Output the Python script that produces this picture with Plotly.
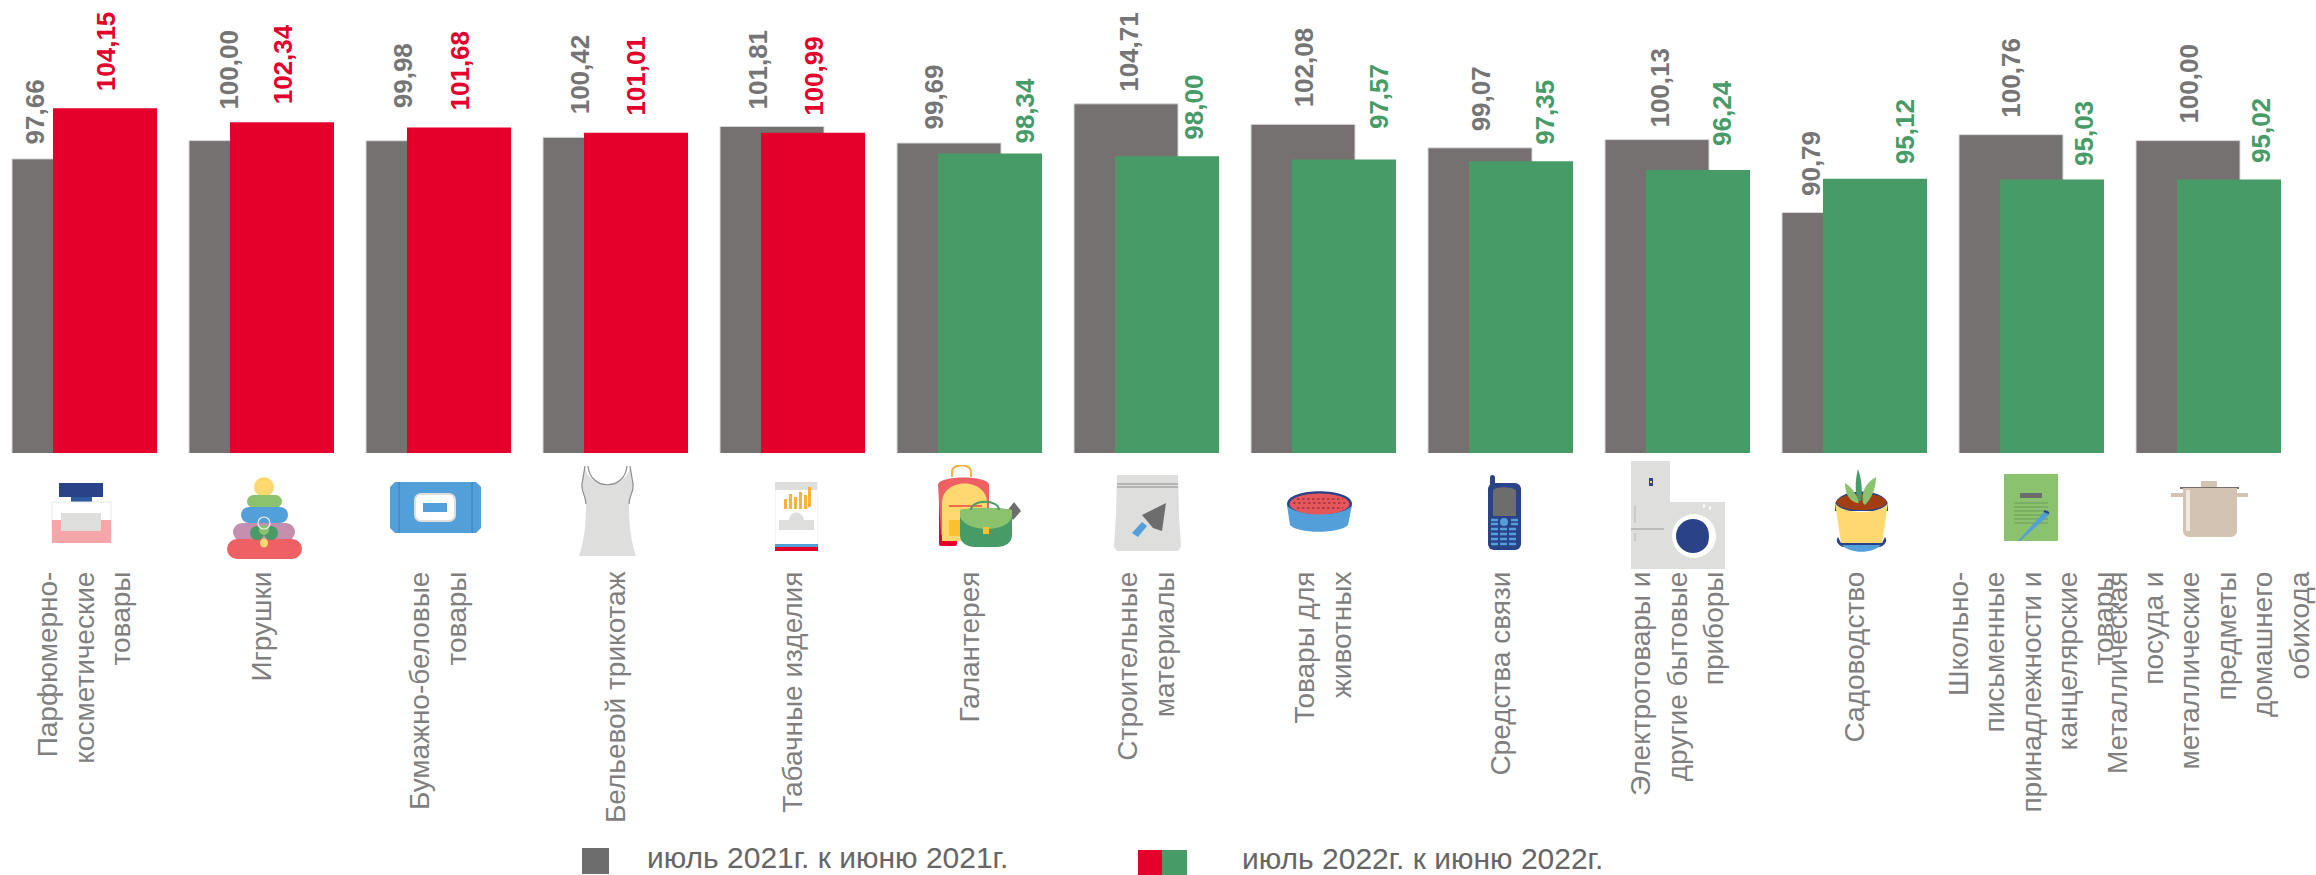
import base64
import plotly.graph_objects as go

categories = [
    "Парфюмерно-<br>косметические<br>товары", "Игрушки", "Бумажно-беловые<br>товары",
    "Бельевой трикотаж", "Табачные изделия", "Галантерея", "Строительные<br>материалы",
    "Товары для<br>животных", "Средства связи", "Электротовары и<br>другие бытовые<br>приборы",
    "Садоводство", "Школьно-<br>письменные<br>принадлежности и<br>канцелярские<br>товары",
    "Металлическая<br>посуда и<br>металлические<br>предметы<br>домашнего<br>обихода",
]
values_2021 = [97.66, 100.00, 99.98, 100.42, 101.81, 99.69, 104.71, 102.08, 99.07, 100.13, 90.79, 100.76, 100.00]
values_2022 = [104.15, 102.34, 101.68, 101.01, 100.99, 98.34, 98.00, 97.57, 97.35, 96.24, 95.12, 95.03, 95.02]
legend_2021 = "июль 2021г. к июню 2021г."
legend_2022 = "июль 2022г. к июню 2022г."

GRAY, RED, GREEN = "#767171", "#E4002B", "#469B67"
colors_2022 = [RED if v > 100 else GREEN for v in values_2022]

# hand-placed value labels: offsets in pixels from the group centre / bar top
dx_2021 = [-49.5, -32.5, -35.5, -35.5, -34.5, -35.5, -17.5, -19.5, -19.5, -17.5, -43.5, -20.5, -19.5]
gap_2021 = [14, 31, 32, 23, 17, 13, 12, 17, 16, 12, 16, 17, 17]
dx_2022 = [21.5, 21.5, 21.5, 20.5, 21.5, 55.5, 47.5, 55.5, 44.5, 44.5, 50.5, 52.5, 52.5]
gap_2022 = [17, 18, 17, 17, 17, 10, 16, 30, 16, 24, 14, 13, 16]

W, H, PLOT_H, PITCH, C0 = 2316, 875, 453, 177.0, 84.5
BAR_W = 104 / PITCH
FONT = "Liberation Sans"

fig = go.Figure()
fig.add_bar(x=categories, y=values_2021, base=0, width=BAR_W, offset=-72.5 / PITCH,
            marker=dict(color=GRAY, line=dict(color="#d9d9d9", width=1)), name=legend_2021)
fig.add_bar(x=categories, y=values_2022, base=0, width=BAR_W, offset=-31.5 / PITCH,
            marker=dict(color=colors_2022, line=dict(width=0)), name=legend_2022)

annotations = []
def fmt(v):
    return f"{v:.2f}".replace(".", ",")
for cat, v, dx, gap in zip(categories, values_2021, dx_2021, gap_2021):
    annotations.append(dict(x=cat, y=v, xref="x", yref="y", text=f"<b>{fmt(v)}</b>", textangle=-90,
                            showarrow=False, xanchor="center", yanchor="bottom", xshift=dx, yshift=gap - 2,
                            font=dict(family=FONT, size=26, color="#757575")))
for cat, v, dx, gap, col in zip(categories, values_2022, dx_2022, gap_2022, colors_2022):
    annotations.append(dict(x=cat, y=v, xref="x", yref="y", text=f"<b>{fmt(v)}</b>", textangle=-90,
                            showarrow=False, xanchor="center", yanchor="bottom", xshift=dx, yshift=gap - 2,
                            font=dict(family=FONT, size=26, color=col)))

def paper_x(px): return px / W
def paper_y(py): return 1 - py / PLOT_H

annotations.append(dict(x=paper_x(645), y=paper_y(857), xref="paper", yref="paper", text=legend_2021, showarrow=False,
                        xanchor="left", yanchor="middle", font=dict(family=FONT, size=30, color="#666666")))
annotations.append(dict(x=paper_x(1240), y=paper_y(858), xref="paper", yref="paper", text=legend_2022, showarrow=False,
                        xanchor="left", yanchor="middle", font=dict(family=FONT, size=30, color="#666666")))

def swatch(x0, x1, y0, y1, color):
    return dict(type="rect", xref="paper", yref="paper", x0=paper_x(x0), x1=paper_x(x1),
                y0=paper_y(y0), y1=paper_y(y1), fillcolor=color, line=dict(width=0))
shapes = [swatch(582, 609, 848, 874, "#6d6d6d"), swatch(1138, 1162, 850, 875, RED), swatch(1162, 1187, 850, 875, GREEN)]

# pictograms: (left, top, width, height, svg body)
NAVY, BLUE, LGREEN, DGREEN, YEL, CORAL, LG, DG = "#2A4288", "#529FD9", "#8BC26E", "#469B67", "#FFD96F", "#EE6063", "#DEDEDC", "#6D6D6D"
icons = [
    (51, 483, 61, 60, f'<rect x="8" width="44" height="14" fill="{NAVY}"/><rect x="20" y="14" width="21" height="6" fill="#2E5AA0"/>'
        f'<rect x="1" y="19" width="59" height="40" fill="#fff" stroke="#E8E8E8"/><rect x="1" y="37" width="59" height="23" fill="#F5A6A9"/>'
        f'<rect x="10" y="30" width="40" height="18" fill="{LG}"/>'),
    (227, 477, 75, 83, f'<circle cx="37" cy="10" r="10" fill="{YEL}"/><rect x="20" y="18" width="35" height="13" rx="6.5" fill="{LGREEN}"/>'
        f'<rect x="14" y="30" width="47" height="16" rx="8" fill="{BLUE}"/><rect x="6" y="46" width="62" height="18" rx="9" fill="#C58FB0"/>'
        f'<rect y="62" width="75" height="20" rx="10" fill="{CORAL}"/><ellipse cx="30" cy="56" rx="7" ry="7" fill="{DGREEN}"/>'
        f'<ellipse cx="44" cy="56" rx="7" ry="7" fill="{DGREEN}"/><circle cx="37" cy="53" r="5" fill="{LGREEN}"/>'
        f'<circle cx="37" cy="46" r="6" fill="none" stroke="#EEE" stroke-width="1.2"/><ellipse cx="37" cy="66" rx="4" ry="4.5" fill="{YEL}"/>'),
    (390, 482, 91, 51, f'<path d="M5 0H86L91 5V46L86 51H5L0 46V5Z" fill="{BLUE}"/><path d="M9 0V51M82 0V51" stroke="#3C7FB5" stroke-width="1"/>'
        f'<rect x="25" y="12" width="40" height="27" rx="6" fill="#fff" stroke="{LG}" stroke-width="2"/><rect x="33" y="21" width="24" height="9" fill="{BLUE}"/>'),
    (579, 466, 57, 90, f'<path d="M6 0C8 24 49 24 51 0L54 18C55 26 50 30 50 40C50 60 52 75 57 90H0C5 75 7 60 7 40C7 30 2 26 3 18Z" fill="{LG}"/>'
        f'<path d="M9 0C11 25 46 25 48 0M6 0L3 18C2 26 7 30 7 38M51 0L54 18C55 26 50 30 50 38" fill="none" stroke="#8C8C8C" stroke-width="1.2"/>'),
    (775, 482, 43, 69, f'<rect width="43" height="69" fill="#fff" stroke="#EAEAEA"/><rect width="42" height="8" fill="{LG}"/>'
        f'<path d="M9 17h3v10h-3zM14 12h3v15h-3zM19 15h3v12h-3zM24 10h3v17h-3zM29 13h3v14h-3zM33 5h3v20h-3z" fill="#FBB040"/>'
        f'<path d="M4 48H39V38H29C28 28 15 28 14 38H4Z" fill="{LG}"/><rect y="62" width="43" height="3" fill="{BLUE}"/><rect y="65" width="43" height="4" fill="#E4002B"/>'),
    (937, 465, 84, 82, f'<path d="M15 12V7C15 -2 34 -2 34 7V12" fill="none" stroke="#FBB040" stroke-width="2"/><rect x="2" y="17" width="18" height="64" rx="2" fill="#E4002B"/>'
        f'<path d="M1 20C1 10 52 10 52 20V70H4Z" fill="{CORAL}"/><path d="M5 76V38C5 12 50 12 50 38V76Z" fill="{YEL}"/>'
        f'<rect x="12" y="55" width="12" height="16" fill="#FBC02D"/><path d="M12 41H45" stroke="#E4002B" stroke-width="1.2"/>'
        f'<path d="M77 37L84 46L76 55L70 46Z" fill="{DG}"/><path d="M23 45H75V70C75 78 68 82 60 82H38C30 82 23 78 23 70Z" fill="{DGREEN}"/>'
        f'<path d="M23 45C30 42 68 42 75 45V52C70 68 30 68 23 52Z" fill="{LGREEN}"/><path d="M34 45C34 34 62 34 62 45" fill="none" stroke="{DGREEN}" stroke-width="2"/>'
        f'<rect x="46" y="62" width="6" height="7" fill="#FBC02D"/>'),
    (1114, 475, 67, 76, f'<path d="M3 0H64L65 40L67 72L64 76H3L0 72L2 40Z" fill="{LG}"/><path d="M3 9H64M3 12H64" stroke="#8C8C8C" stroke-width="1.2"/>'
        f'<path d="M52 28L48 56L39 53L34 47L28 40Z" fill="{DG}"/><path d="M33 51L24 62L18 58L28 47Z" fill="{BLUE}"/>'),
    (1285, 491, 69, 41, f'<path d="M2 13C2 -4 67 -4 67 13C67 30 2 30 2 13Z" fill="{NAVY}"/><path d="M2 14C10 26 60 26 67 14L63 34C55 43 12 43 5 34Z" fill="{BLUE}"/>'
        f'<ellipse cx="34.5" cy="13" rx="30" ry="10.5" fill="#E4575B"/>'
        f'<path d="M8 12H62M12 8H58M12 17H58" stroke="#B13A45" stroke-width="2" stroke-dasharray="2.5 2.5"/>'),
    (1488, 475, 33, 75, f'<rect x="2" width="5" height="12" rx="2.5" fill="{NAVY}"/><rect y="8" width="33" height="67" rx="6" fill="{NAVY}"/>'
        f'<path d="M5 16C5 11 27 11 28 16V41H5Z" fill="{DG}"/><ellipse cx="16" cy="47" rx="4" ry="4" fill="{BLUE}"/>'
        f'<path d="M3 45h7M3 49h7M23 45h7M23 49h7M3 54h27M3 59h27M3 64h27M3 69h27" stroke="{BLUE}" stroke-width="2.5" stroke-dasharray="7 2"/>'),
    (1631, 461, 94, 108, f'<rect width="39" height="108" fill="{LG}"/><rect x="33" y="41" width="61" height="67" fill="{LG}"/>'
        f'<path d="M0 68H33" stroke="#9A9A9A" stroke-width="1.2"/><path d="M4 45V62M4 72V80" stroke="#BDBDBD" stroke-width="1.2"/>'
        f'<rect x="18" y="17" width="4" height="8" fill="{NAVY}"/><rect x="19" y="20" width="2" height="2" fill="{YEL}"/>'
        f'<ellipse cx="63" cy="75" rx="22" ry="22" fill="#fff"/><ellipse cx="62" cy="75" rx="17" ry="17" fill="{NAVY}"/><path d="M72 60C80 68 80 82 72 92A22 22 0 0 0 85 75 22 22 0 0 0 72 60Z" fill="#fff"/>'
        f'<path d="M72 45h2M78 47h2" stroke="#fff" stroke-width="3"/>'),
    (1835, 469, 53, 84, f'<path d="M0 36C2 18 51 18 53 36V42H0Z" fill="{NAVY}"/><ellipse cx="26.5" cy="33" rx="25" ry="8" fill="#A33D12"/>'
        f'<path d="M0 34C8 46 45 46 53 34L47 74H6Z" fill="{YEL}"/><path d="M3 68C0 72 3 76 8 78H45C50 76 53 72 50 68L47 74H6Z" fill="{NAVY}"/>'
        f'<path d="M7 76C15 85 38 85 46 76Z" fill="{BLUE}"/><path d="M23 32C19 20 21 8 23 0C26 8 28 20 26 32Z" fill="{DGREEN}"/>'
        f'<path d="M22 34C14 32 10 24 10 14C17 18 22 26 24 34Z" fill="{LGREEN}"/><path d="M28 34C26 24 30 14 41 8C41 20 36 30 30 36Z" fill="{LGREEN}"/>'),
    (2004, 474, 54, 67, f'<rect width="54" height="67" fill="{LGREEN}"/><rect x="16" y="19" width="22" height="5" fill="{DG}"/>'
        f'<path d="M10 29H44M10 33H44M10 37H44M10 41H44M10 45H44M10 49H44" stroke="#6E9A58" stroke-width="1.2"/>'
        f'<path d="M41 37L46 40L16 67L12 69Z" fill="{BLUE}"/><path d="M40 37L45 39" stroke="{NAVY}" stroke-width="2"/>'),
    (2171, 481, 77, 56, f'<rect x="30" width="16" height="7" rx="1" fill="#D3C3B3"/><path d="M9 6H68V8H9Z" fill="#77706A"/><rect x="0" y="12" width="77" height="4" fill="#D3C3B3"/>'
        f'<path d="M12 7H66V50C66 53 63 56 60 56H18C15 56 12 53 12 50Z" fill="#D3C3B3"/><rect x="15" y="9" width="4" height="41" fill="#F1E9DF"/>'),
]
images = []
for left, top, w, h, body in icons:
    svg = f'<svg xmlns="http://www.w3.org/2000/svg" width="{w}" height="{h}" viewBox="0 0 {w} {h}">{body}</svg>'
    uri = "data:image/svg+xml;base64," + base64.b64encode(svg.encode()).decode()
    images.append(dict(source=uri, xref="paper", yref="paper", x=paper_x(left), y=paper_y(top),
                       sizex=w / W, sizey=h / PLOT_H, xanchor="left", yanchor="top", sizing="stretch", layer="above"))

fig.update_layout(
    width=W, height=H, autosize=False, barmode="overlay", showlegend=False,
    margin=dict(l=0, r=0, t=0, b=H - PLOT_H, pad=0),
    paper_bgcolor="white", plot_bgcolor="white",
    annotations=annotations, shapes=shapes, images=images,
    font=dict(family=FONT),
    xaxis=dict(type="category", categoryorder="array", categoryarray=categories,
               range=[-C0 / PITCH, (W - C0) / PITCH], tickangle=-90, showgrid=False,
               ticks="", ticklabelstandoff=112, showline=False,
               tickfont=dict(family=FONT, size=28, color="#7F7F7F"), automargin=False, fixedrange=True),
    yaxis=dict(range=[60, 60 + PLOT_H / 7.81], visible=False, fixedrange=True),
)
fig.write_html("out.html", config=dict(displayModeBar=False),
               post_script="document.body.style.margin='0';document.body.style.overflow='hidden';window.scrollTo(0,0);")
